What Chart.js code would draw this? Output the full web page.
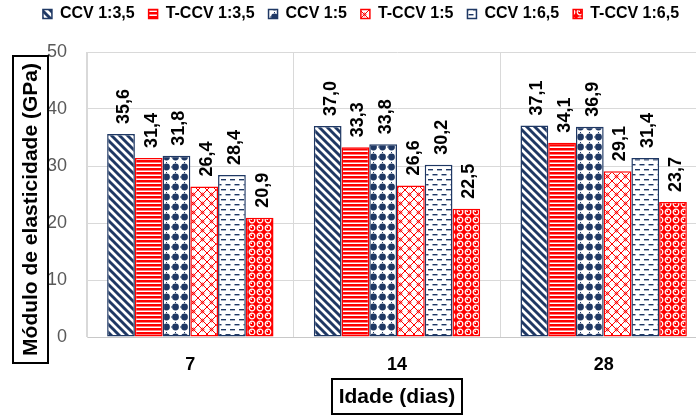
<!DOCTYPE html>
<html>
<head>
<meta charset="utf-8">
<script src="https://cdn.jsdelivr.net/npm/chart.js@4"></script>
<style>
  html, body { margin: 0; padding: 0; background: #fff; overflow: hidden; width: 696px; height: 418px; }
  #wrap { position: absolute; left: 0; top: -8px; width: 726px; height: 426px; }
  canvas { display: block; }
</style>
</head>
<body>
<div id="wrap"><canvas id="c" width="726" height="426"></canvas></div>
<script>
// Ages (days) on the horizontal axis
const ages = ['7', '14', '28'];

// Series names
const seriesNames = ['CCV 1:3,5', 'T-CCV 1:3,5', 'CCV 1:5', 'T-CCV 1:5', 'CCV 1:6,5', 'T-CCV 1:6,5'];

// Elastic modulus (GPa) per series, one value per age
const ccv35  = [35.6, 37.0, 37.1];
const tccv35 = [31.4, 33.3, 34.1];
const ccv5   = [31.8, 33.8, 36.9];
const tccv5  = [26.4, 26.6, 29.1];
const ccv65  = [28.4, 30.2, 31.4];
const tccv65 = [20.9, 22.5, 23.7];

// Value axis ticks
const yTicks = [0, 10, 20, 30, 40, 50];

const yTitle = 'Módulo de elasticidade (GPa)';
const xTitle = 'Idade (dias)';

const NAVY = '#1F3864';
const RED = '#FF0000';
const FONT = '"Liberation Sans", Arial, sans-serif';

Chart.defaults.font.family = FONT;

const mainCtx = document.getElementById('c').getContext('2d');

// Small repeating tiles used as bar fills
function tile(w, h, paint) {
  const c = document.createElement('canvas');
  c.width = w; c.height = h;
  const g = c.getContext('2d');
  g.fillStyle = '#fff';
  g.fillRect(0, 0, w, h);
  paint(g, w, h);
  return mainCtx.createPattern(c, 'repeat');
}

const patDiag = tile(8, 8, g => {
  g.strokeStyle = NAVY; g.lineWidth = 2.9;
  g.beginPath();
  for (let k = -1; k <= 1; k++) { g.moveTo(8 * k - 4, -4); g.lineTo(8 * k + 12, 12); }
  g.stroke();
});

const patHoriz = tile(4, 4, g => {
  g.fillStyle = RED; g.fillRect(0, 0, 4, 2.5);
});

const patDots = tile(9, 10, g => {
  g.fillStyle = NAVY;
  g.beginPath(); g.arc(4.5, 5, 3.4, 0, Math.PI * 2); g.fill();
  g.fillRect(0, 4.5, 1, 1);
  g.fillRect(4, 0, 1, 1);
});

const patLattice = tile(9, 9, g => {
  g.strokeStyle = RED; g.lineWidth = 1;
  g.beginPath();
  g.moveTo(-1, -1); g.lineTo(10, 10);
  g.moveTo(10, -1); g.lineTo(-1, 10);
  g.stroke();
  g.beginPath(); g.arc(4.5, 4.5, 1.4, 0, Math.PI * 2); g.stroke();
});

const patDash = tile(9, 10, g => {
  g.fillStyle = NAVY;
  g.fillRect(0.5, 2, 5, 1.4);
  g.fillRect(5, 7, 5, 1.4);
  g.fillRect(-4, 7, 5, 1.4);
});

const patSphere = tile(8, 8, g => {
  g.fillStyle = RED; g.fillRect(0, 0, 8, 8);
  g.strokeStyle = '#fff'; g.lineWidth = 1.2;
  g.beginPath(); g.arc(4, 4, 2.8, 0, Math.PI * 2); g.stroke();
  g.fillStyle = '#fff'; g.fillRect(2.5, 2.5, 1.5, 1.5);
});

const seriesValues = [ccv35, tccv35, ccv5, tccv5, ccv65, tccv65];
const fills = [patDiag, patHoriz, patDots, patLattice, patDash, patSphere];
const edges = [NAVY, RED, NAVY, RED, NAVY, RED];

// Leaves some empty space between the legend row and the plot
const legendGap = {
  id: 'legendGap',
  beforeLayout(chart) {
    const lg = chart.legend;
    if (lg && !lg.gapAdded) {
      const fit = lg.fit;
      lg.fit = function () { fit.call(this); this.height += 20; };
      lg.gapAdded = true;
    }
  }
};

// Rotated value labels above each bar
const valueLabels = {
  id: 'valueLabels',
  afterDatasetsDraw(chart) {
    const ctx = chart.ctx;
    ctx.save();
    ctx.font = 'bold 18px ' + FONT;
    ctx.fillStyle = '#000';
    ctx.textAlign = 'left';
    ctx.textBaseline = 'middle';
    chart.data.datasets.forEach((ds, i) => {
      chart.getDatasetMeta(i).data.forEach((bar, j) => {
        const txt = ds.data[j].toFixed(1).replace('.', ',');
        ctx.save();
        ctx.translate(bar.x + 3, bar.y - 10);
        ctx.rotate(-Math.PI / 2);
        ctx.fillText(txt, 0, 0);
        ctx.restore();
      });
    });
    ctx.restore();
  }
};

// Axis titles drawn inside framed boxes
const axisTitleBoxes = {
  id: 'axisTitleBoxes',
  afterDraw(chart) {
    const { ctx, chartArea: a } = chart;
    ctx.save();
    ctx.font = 'bold 21px ' + FONT;
    ctx.strokeStyle = '#000';
    ctx.lineWidth = 2;
    ctx.textAlign = 'center';
    ctx.textBaseline = 'middle';

    // vertical title
    ctx.fillStyle = '#fff';
    ctx.fillRect(a.left - 74, a.top + 4, 35, 307);
    ctx.strokeRect(a.left - 74, a.top + 4, 35, 307);
    ctx.fillStyle = '#000';
    ctx.save();
    ctx.translate(a.left - 56.5, a.top + 157.5);
    ctx.rotate(-Math.PI / 2);
    ctx.fillText(yTitle, 0, 1);
    ctx.restore();

    // horizontal title
    const cx = (a.left + a.right) / 2;
    ctx.fillStyle = '#fff';
    ctx.fillRect(cx - 65, a.bottom + 42, 130, 35);
    ctx.strokeRect(cx - 65, a.bottom + 42, 130, 35);
    ctx.fillStyle = '#000';
    ctx.fillText(xTitle, cx, a.bottom + 60);
    ctx.restore();
  }
};

new Chart(mainCtx, {
  type: 'bar',
  data: {
    labels: ages,
    datasets: seriesNames.map((name, i) => ({
      label: name,
      data: seriesValues[i],
      backgroundColor: fills[i],
      borderColor: edges[i],
      borderWidth: 1.5,
      borderSkipped: false
    }))
  },
  options: {
    responsive: false,
    devicePixelRatio: 1,
    animation: false,
    layout: { padding: { left: 15, right: 19, top: 0, bottom: 0 } },
    datasets: { bar: { categoryPercentage: 0.805, barPercentage: 1 } },
    plugins: {
      legend: {
        position: 'top',
        labels: {
          boxWidth: 9,
          boxHeight: 9,
          padding: 14,
          color: '#000',
          font: { size: 16, weight: 'bold', family: FONT }
        }
      },
      tooltip: { enabled: false }
    },
    scales: {
      x: {
        grid: { color: '#d9d9d9', offset: true, drawTicks: false },
        border: { color: '#c8c8c8' },
        ticks: { color: '#000', padding: 17, font: { size: 18, weight: 'bold' } },
        afterFit: s => { s.height = 81; }
      },
      y: {
        min: 0,
        max: 50,
        afterBuildTicks: s => { s.ticks = yTicks.map(v => ({ value: v })); },
        grid: { color: '#d9d9d9', drawTicks: false },
        border: { color: '#d9d9d9' },
        ticks: { color: '#595959', padding: 20, font: { size: 18 } },
        afterFit: s => { s.width = 72; }
      }
    }
  },
  plugins: [legendGap, valueLabels, axisTitleBoxes]
});
</script>
</body>
</html>
